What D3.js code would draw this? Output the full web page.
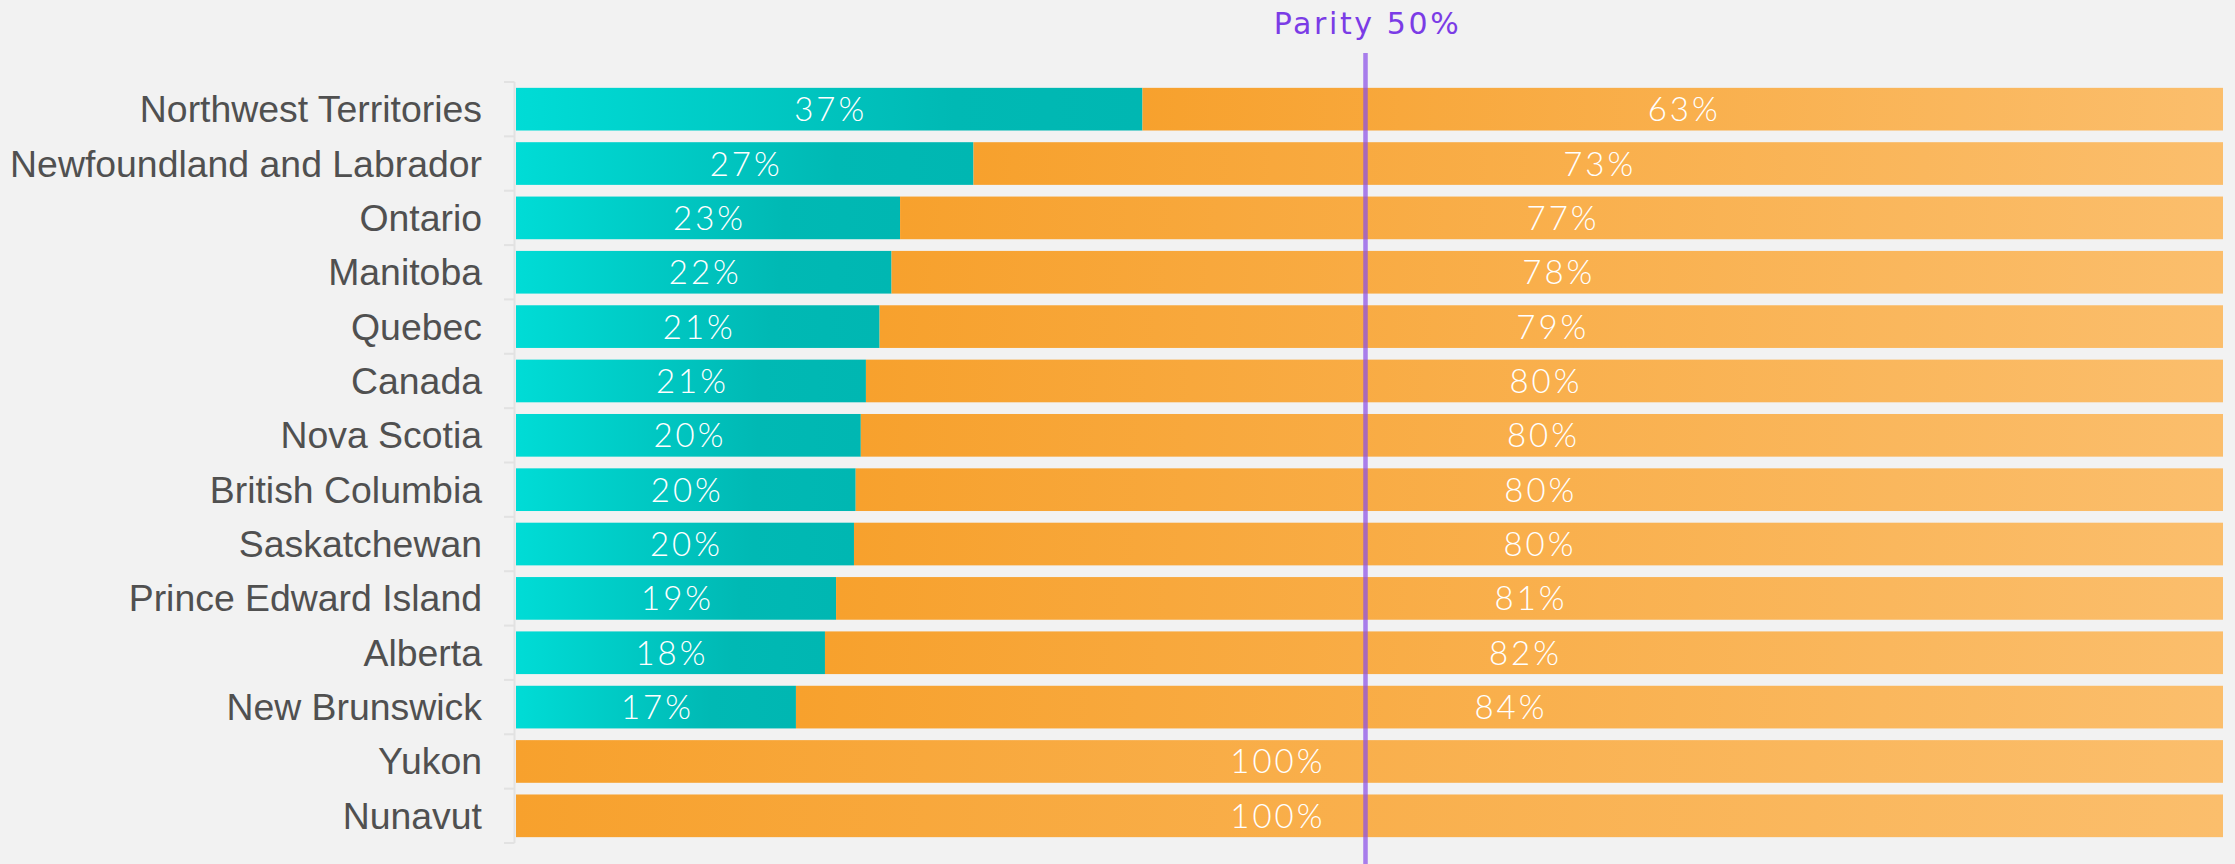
<!DOCTYPE html>
<html>
<head>
<meta charset="utf-8">
<script src="https://cdn.jsdelivr.net/npm/d3@7"></script>
<style>
  html, body { margin: 0; padding: 0; background: #f2f2f2; }
  svg { display: block; }
</style>
</head>
<body>
<svg id="chart" width="2235" height="864"></svg>
<script>
// ---- data ----
const categories = ["Northwest Territories", "Newfoundland and Labrador", "Ontario", "Manitoba", "Quebec", "Canada", "Nova Scotia", "British Columbia", "Saskatchewan", "Prince Edward Island", "Alberta", "New Brunswick", "Yukon", "Nunavut"];
const women = [36.7, 26.8, 22.5, 22.0, 21.3, 20.5, 20.2, 19.9, 19.8, 18.75, 18.1, 16.4, 0, 0];
const men   = [63.3, 73.2, 77.5, 78.0, 78.7, 79.5, 79.8, 80.1, 80.2, 81.25, 81.9, 83.6, 100, 100];
const womenLabels = ["37%", "27%", "23%", "22%", "21%", "21%", "20%", "20%", "20%", "19%", "18%", "17%", "", ""];
const menLabels   = ["63%", "73%", "77%", "78%", "79%", "80%", "80%", "80%", "80%", "81%", "82%", "84%", "100%", "100%"];
const parityValue = 50;
const parityLabel = "Parity 50%";
const xDomain = [0, 100];

// ---- layout ----
const W = 2235, H = 864;
const plotLeft = 516, plotRight = 2223, plotTop = 82, plotBottom = 843;
const svg = d3.select("#chart");

const x = d3.scaleLinear().domain(xDomain).range([plotLeft, plotRight]);
const y = d3.scaleBand().domain(categories).range([plotTop, plotBottom])
  .paddingInner(0.215).paddingOuter(0.1075);

// background
svg.append("rect").attr("width", W).attr("height", H).attr("fill", "#f2f2f2");

// gradients
const defs = svg.append("defs");
const gT = defs.append("linearGradient").attr("id", "gTeal").attr("x1", 0).attr("x2", 1).attr("y1", 0).attr("y2", 0);
gT.append("stop").attr("offset", "0%").attr("stop-color", "#00dcd6");
gT.append("stop").attr("offset", "70%").attr("stop-color", "#00b9b4");
gT.append("stop").attr("offset", "100%").attr("stop-color", "#00b7b2");
const gO = defs.append("linearGradient").attr("id", "gOrange").attr("x1", 0).attr("x2", 1).attr("y1", 0).attr("y2", 0);
gO.append("stop").attr("offset", "0%").attr("stop-color", "#f7a12d");
gO.append("stop").attr("offset", "100%").attr("stop-color", "#fbbe6c");

// category axis line and boundary ticks
const axisG = svg.append("g");
axisG.append("line")
  .attr("x1", plotLeft - 1.5).attr("x2", plotLeft - 1.5)
  .attr("y1", plotTop).attr("y2", plotBottom)
  .attr("stroke", "#e2e2e2").attr("stroke-width", 2);
const half = (y.step() - y.bandwidth()) / 2;
const boundaries = categories.map(c => y(c) - half).concat([y(categories[categories.length - 1]) + y.bandwidth() + half]);
axisG.selectAll("line.tick").data(boundaries).join("line")
  .attr("class", "tick")
  .attr("x1", plotLeft - 12).attr("x2", plotLeft - 1.5)
  .attr("y1", d => d).attr("y2", d => d)
  .attr("stroke", "#e2e2e2").attr("stroke-width", 2);

// category labels
svg.append("g").selectAll("text").data(categories).join("text")
  .attr("x", plotLeft - 34)
  .attr("y", d => y(d) + y.bandwidth() / 2 + 13)
  .attr("text-anchor", "end")
  .attr("font-family", "'Liberation Sans', Arial, sans-serif")
  .attr("font-size", 37.4)
  .attr("fill", "#505050")
  .text(d => d);

// bars
const rows = categories.map((c, i) => ({ c, w: women[i], m: men[i], wl: womenLabels[i], ml: menLabels[i] }));
const barsG = svg.append("g");
barsG.selectAll("rect.w").data(rows.filter(r => r.w > 0)).join("rect")
  .attr("class", "w")
  .attr("x", x(0)).attr("y", d => y(d.c))
  .attr("width", d => x(d.w) - x(0)).attr("height", y.bandwidth())
  .attr("fill", "url(#gTeal)");
barsG.selectAll("rect.m").data(rows).join("rect")
  .attr("class", "m")
  .attr("x", d => x(d.w)).attr("y", d => y(d.c))
  .attr("width", d => x(d.w + d.m) - x(d.w)).attr("height", y.bandwidth())
  .attr("fill", "url(#gOrange)");

// value labels
const lineX = x(parityValue);
const labFont = "Lato, 'Open Sans', sans-serif";
const labG = svg.append("g");
function addLabel(d, start, end, txt) {
  if (!txt) return;
  const t = labG.append("text")
    .attr("y", y(d.c) + y.bandwidth() / 2 + 12)
    .attr("text-anchor", "middle")
    .attr("font-family", labFont)
    .attr("font-weight", 300)
    .attr("font-size", 33)
    .attr("letter-spacing", 3)
    .attr("fill", "#ffffff")
    .text(txt);
  let cx = (x(start) + x(end)) / 2 + 1.5;
  t.attr("x", cx);
  const bw = t.node().getComputedTextLength();
  if (cx - bw / 2 < lineX + 20 && cx + bw / 2 > lineX - 20) {
    cx = lineX - 44 - bw / 2;
    t.attr("x", cx);
  }
}
rows.forEach(d => {
  if (d.w > 0) addLabel(d, 0, d.w, d.wl);
  addLabel(d, d.w, d.w + d.m, d.ml);
});

// parity line
svg.append("line")
  .attr("x1", lineX - 4).attr("x2", lineX - 4)
  .attr("y1", 53).attr("y2", H)
  .attr("stroke", "#8a4fe8").attr("stroke-opacity", 0.72).attr("stroke-width", 4.5);
svg.append("text")
  .attr("x", lineX - 2).attr("y", 34)
  .attr("text-anchor", "middle")
  .attr("font-family", "'DejaVu Sans', sans-serif")
  .attr("font-size", 30)
  .attr("letter-spacing", 2.6)
  .attr("fill", "#7b3ce6")
  .text(parityLabel);
</script>
</body>
</html>
